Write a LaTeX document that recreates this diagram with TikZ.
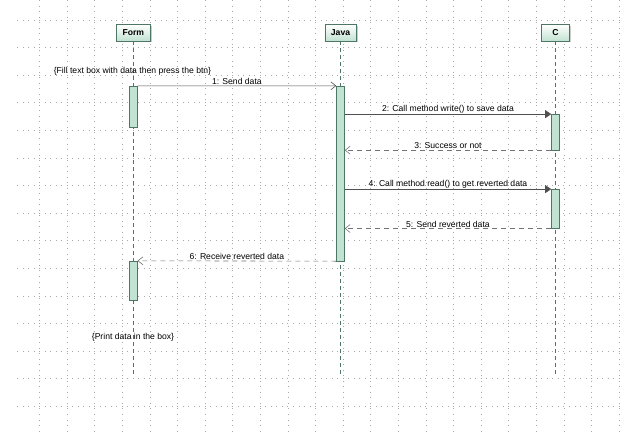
\documentclass[tikz,border=0pt]{standalone}
\usepackage{fontspec}
\setmainfont{Liberation Sans}
\usetikzlibrary{arrows.meta, shadows}

\definecolor{actfill}{HTML}{C2E2D2}
\definecolor{actline}{HTML}{4E7666}
\definecolor{gridgray}{HTML}{A8A8A8}
\definecolor{msgline}{HTML}{505050}

\tikzset{
  head/.style={draw=actline, top color=white, bottom color=actfill, minimum width=28pt,
    minimum height=16.5pt, inner xsep=6pt, font=\fontsize{8.6}{10}\selectfont\bfseries,
    drop shadow={shadow xshift=1.5pt, shadow yshift=-1.5pt, fill=black!40}},
  act/.style={draw=actline, fill=actfill, minimum width=8pt, inner sep=0pt},
  lifeline/.style={draw=actline, dash pattern=on 4pt off 3pt, line width=0.6pt},
  call/.style={draw=msgline, line width=0.6pt, -{Triangle[length=6pt,width=8pt]}},
  send/.style={draw=msgline, line width=0.6pt, -{Straight Barb[length=5pt,width=8pt]}},
  reply/.style={draw=msgline!80, line width=0.6pt, dash pattern=on 5pt off 4pt,
    -{Straight Barb[length=5pt,width=8pt]}},
  lbl/.style={font=\fontsize{8.6}{10}\selectfont, inner sep=1pt},
  gridline/.style={draw=gridgray, line width=0.8pt, dash pattern=on 0.8pt off 4.72pt}
}

\begin{document}
\begin{tikzpicture}[x=1pt, y=-1pt]
  \fill[white] (0,0) rectangle (621,434);
  \useasboundingbox (0,0) rectangle (621,434);

  % background grid
  \foreach \k in {0,...,14} \draw[gridline] (17,20+27.6*\k) -- (621,20+27.6*\k);
  \foreach \k in {0,...,21} \draw[gridline] (39.5+27.6*\k,0) -- (39.5+27.6*\k,434);

  % lifeline heads
  \node[head] (form) at (133.3,32.7) {Form};
  \node[head] (java) at (340.5,32.7) {Java};
  \node[head] (c)    at (555.4,32.7) {C};

  \coordinate (formend) at (133.3,377);
  \coordinate (javaend) at (340.5,377);
  \coordinate (cend)    at (555.4,377);

  \draw[lifeline] (form.south) -- (formend);
  \draw[lifeline] (java.south) -- (javaend);
  \draw[lifeline] (c.south) -- (cend);

  % activations
  \node[act, minimum height=40.7pt] (formact1) at (133.3,106.35) {};
  \node[act, minimum height=175pt]  (javaact)  at (340.5,173.5) {};
  \node[act, minimum height=35.7pt] (cact1)    at (555.4,132.15) {};
  \node[act, minimum height=39pt]   (cact2)    at (555.4,208.8) {};
  \node[act, minimum height=39.5pt] (formact2) at (133.3,280.75) {};

  % messages
  \draw[send] (formact1.north east) -- node[lbl, above] {1: Send data} (javaact.north west);
  \draw[call] (javaact.east |- cact1.north) -- node[lbl, above] {2: Call method write() to save data} (cact1.north west);
  \draw[reply] (cact1.south west) -- node[lbl, above] {3: Success or not} (javaact.east |- cact1.south);
  \draw[call] (javaact.east |- cact2.north) -- node[lbl, above] {4: Call method read() to get reverted data} (cact2.north west);
  \draw[reply] (cact2.south west) -- node[lbl, above] {5: Send reverted data} (javaact.east |- cact2.south);
  \draw[reply] (javaact.south west) -- node[lbl, above] {6: Receive reverted data} (formact2.north east);

  % notes
  \node[lbl] (fillnote)  at (132.5,71.7) {\{Fill text box with data then press the btn\}};
  \node[lbl] (printnote) at (133,337)    {\{Print data in the box\}};
\end{tikzpicture}
\end{document}
